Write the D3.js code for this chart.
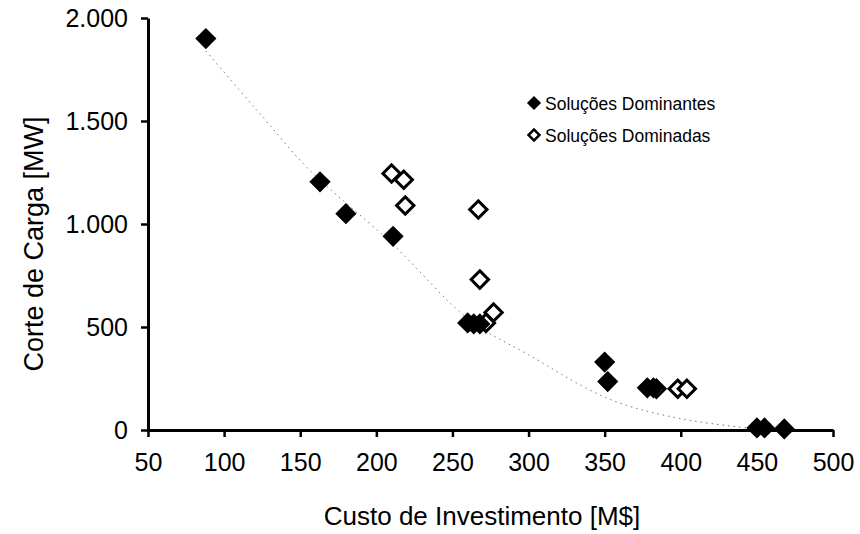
<!DOCTYPE html>
<html><head><meta charset="utf-8">
<script src="https://cdn.jsdelivr.net/npm/d3@7"></script>
<style>body{margin:0;background:#fff}svg{display:block;font-family:"Liberation Sans",Arial,sans-serif}</style>
</head><body><svg id="c" width="860" height="534"></svg>
<script>
const domX = [88, 163, 180, 211, 260, 264, 268, 350, 352, 378, 382, 450, 455, 468];
const domY = [1900, 1205, 1050, 940, 520, 515, 515, 330, 235, 205, 205, 10, 10, 5];
const subX = [210, 218, 219, 267, 268, 272, 277, 384, 398, 404];
const subY = [1245, 1215, 1090, 1070, 730, 520, 570, 200, 200, 200];
const trendX = [88, 113, 130, 155, 211, 261, 300, 353, 400, 450];
const trendY = [1840, 1625, 1480, 1270, 900, 535, 365, 150, 55, 5];
const xTicks = [50, 100, 150, 200, 250, 300, 350, 400, 450, 500];
const yTicks = [0, 500, 1000, 1500, 2000];
const legendLabels = ["Soluções Dominantes", "Soluções Dominadas"];

const svg = d3.select("#c");
const x = d3.scaleLinear().domain([50, 500]).range([148, 833]);
const y = d3.scaleLinear().domain([0, 2000]).range([430, 18]);
const loc = d3.formatLocale({decimal: ",", thousands: ".", grouping: [3], currency: ["", ""]});
const fmt = loc.format(",d");

// trend line
svg.append("path")
  .datum(trendX.map((d, i) => [d, trendY[i]]))
  .attr("fill", "none").attr("stroke", "#777").attr("stroke-width", 1)
  .attr("stroke-dasharray", "1.5,4")
  .attr("d", d3.line().x(d => x(d[0])).y(d => y(d[1])).curve(d3.curveCatmullRom));

// axes
const xa = svg.append("g").attr("transform", "translate(0,430)")
  .call(d3.axisBottom(x).tickValues(xTicks).tickSize(7).tickSizeOuter(0).tickPadding(16));
const ya = svg.append("g").attr("transform", "translate(148,0)")
  .call(d3.axisLeft(y).tickValues(yTicks).tickFormat(fmt).tickSize(7).tickSizeOuter(0).tickPadding(13));
[xa, ya].forEach(a => {
  a.select(".domain").attr("stroke", "#000").attr("stroke-width", 3);
  a.selectAll(".tick line").attr("stroke", "#000").attr("stroke-width", 2.5);
  a.selectAll(".tick text").attr("fill", "#000").style("font-size", "25px")
    .style("font-family", '"Liberation Sans",Arial,sans-serif');
});

// titles
svg.append("text").attr("x", 482).attr("y", 525).attr("text-anchor", "middle")
  .style("font-size", "26px").attr("fill", "#000").text("Custo de Investimento [M$]");
svg.append("text").attr("transform", "translate(43,244) rotate(-90)").attr("text-anchor", "middle")
  .style("font-size", "27px").attr("fill", "#000").text("Corte de Carga [MW]");

const diamond = d3.symbol().type(d3.symbolSquare);
// dominated (open)
svg.append("g").selectAll("path").data(subX.map((d, i) => [d, subY[i]])).join("path")
  .attr("d", diamond.size(150)())
  .attr("transform", d => `translate(${x(d[0])},${y(d[1])}) rotate(45)`)
  .attr("fill", "#fff").attr("stroke", "#000").attr("stroke-width", 3);
// dominant (filled)
svg.append("g").selectAll("path").data(domX.map((d, i) => [d, domY[i]])).join("path")
  .attr("d", diamond.size(225)())
  .attr("transform", d => `translate(${x(d[0])},${y(d[1])}) rotate(45)`)
  .attr("fill", "#000");

// legend
const lg = svg.append("g");
legendLabels.forEach((t, i) => {
  const ly = 103 + i * 32;
  lg.append("path").attr("d", d3.symbol().type(d3.symbolSquare).size(i ? 60 : 100)())
    .attr("transform", `translate(534,${ly}) rotate(45)`)
    .attr("fill", i ? "#fff" : "#000").attr("stroke", "#000").attr("stroke-width", i ? 2.5 : 0);
  lg.append("text").attr("x", 545).attr("y", ly + 6.5).style("font-size", "17.5px").attr("fill", "#000").text(t);
});
</script></body></html>
